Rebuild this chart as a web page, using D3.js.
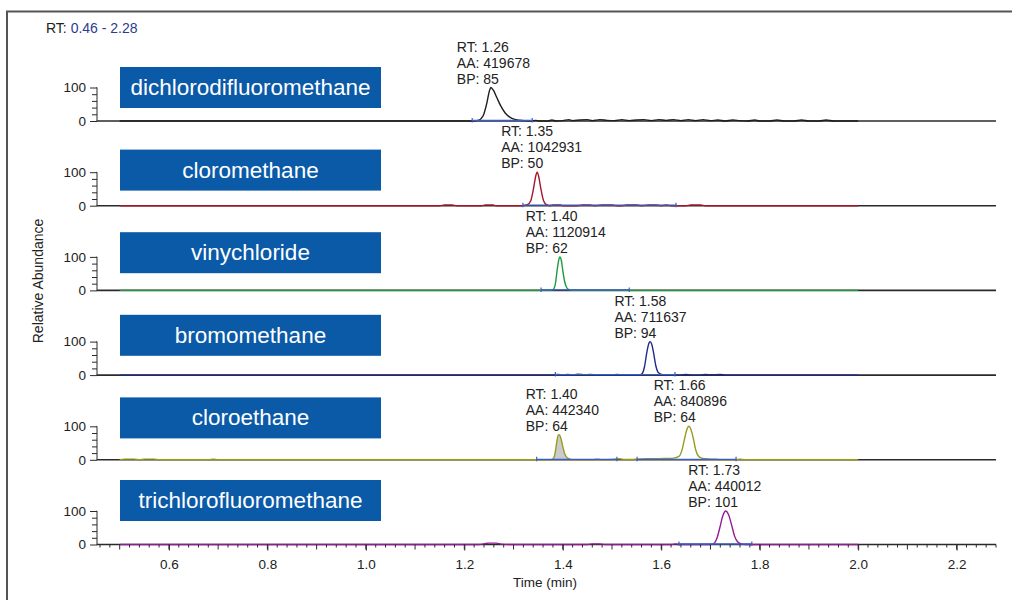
<!DOCTYPE html>
<html>
<head>
<meta charset="utf-8">
<script src="https://cdn.jsdelivr.net/npm/d3@7/dist/d3.min.js"></script>
<style>
  html, body { margin: 0; padding: 0; background: #fff; }
  svg { display: block; font-family: "Liberation Sans", Arial, Helvetica, sans-serif; }
</style>
</head>
<body>
<svg id="chart" width="1012" height="600"></svg>
<script>
// ---------------- DATA ----------------
const compounds = ["dichlorodifluoromethane", "cloromethane", "vinychloride", "bromomethane", "cloroethane", "trichlorofluoromethane"];
const rtRange = [0.46, 2.28];
const yTicks = [0, 100];
const xLabelTicks = [0.6, 0.8, 1.0, 1.2, 1.4, 1.6, 1.8, 2.0, 2.2];

// chromatogram traces: [time (min), relative abundance]
const trace0 = [[0.5,0],[1.215,0],[1.228,2],[1.238,15],[1.246,55],[1.251,90],[1.254,100],[1.259,92],[1.266,70],[1.274,45],[1.283,24],[1.293,11],[1.305,4],[1.32,1],[1.335,0],[1.345,2],[1.352,0],[1.37,0],[1.378,3],[1.386,0],[1.40,1],[1.412,4],[1.42,1],[1.435,3],[1.45,4],[1.46,1],[1.475,4],[1.49,2],[1.505,1],[1.52,4],[1.535,1],[1.55,3],[1.565,4],[1.58,1],[1.595,4],[1.61,2],[1.625,4],[1.64,1],[1.655,4],[1.67,1],[1.685,4],[1.70,1],[1.715,3],[1.73,0],[1.745,3],[1.76,1],[1.775,0],[1.79,3],[1.80,0],[1.82,0],[1.835,3],[1.85,0],[1.87,0],[1.885,3],[1.90,0],[1.92,0],[1.935,3],[1.95,0],[2.0,0]];
const trace1 = [[0.5,0],[1.15,0],[1.16,2],[1.175,2],[1.185,0],[1.235,0],[1.243,2],[1.258,2],[1.265,0],[1.318,0],[1.328,3],[1.335,15],[1.341,55],[1.345,88],[1.348,100],[1.351,88],[1.355,55],[1.361,15],[1.367,3],[1.374,0],[1.38,2],[1.395,2],[1.40,0],[1.43,0],[1.44,2],[1.455,2],[1.465,0],[1.48,2],[1.50,2],[1.51,0],[1.52,0],[1.53,2],[1.55,2],[1.56,0],[1.575,2],[1.59,2],[1.60,0],[1.61,2],[1.62,0],[1.65,0],[1.66,2],[1.68,2],[1.69,0],[2.0,0]];
const trace2 = [[0.5,0],[1.376,0],[1.381,3],[1.385,20],[1.389,65],[1.392,92],[1.394,100],[1.397,90],[1.40,60],[1.404,25],[1.409,6],[1.415,1],[1.42,0],[2.0,0]];
const trace3 = [[0.5,0],[1.38,0],[1.39,2],[1.40,0],[1.41,2],[1.42,0],[1.43,3],[1.445,1],[1.455,2],[1.47,0],[1.50,0],[1.51,2],[1.52,0],[1.555,0],[1.561,4],[1.566,25],[1.571,70],[1.575,95],[1.577,100],[1.58,95],[1.584,70],[1.589,28],[1.595,6],[1.603,1],[1.61,0],[1.64,0],[1.65,2],[1.66,0],[1.68,0],[1.69,2],[1.70,1],[1.72,2],[1.73,0],[2.0,0]];
const trace4 = [[0.5,0],[0.51,2],[0.53,2],[0.54,0],[0.55,2],[0.57,2],[0.58,0],[0.68,0],[0.69,2],[0.70,0],[1.376,0],[1.381,4],[1.385,25],[1.388,55],[1.391,74],[1.393,75],[1.396,65],[1.40,40],[1.404,18],[1.409,6],[1.415,2],[1.42,0],[1.46,0],[1.47,2],[1.48,0],[1.50,1],[1.515,3],[1.525,1],[1.54,1],[1.55,2],[1.57,3],[1.59,3],[1.61,4],[1.625,5],[1.636,10],[1.642,28],[1.647,60],[1.652,90],[1.656,100],[1.66,92],[1.665,65],[1.67,30],[1.675,12],[1.682,5],[1.69,3],[1.70,2],[1.71,2],[1.72,0],[1.75,0],[1.76,2],[1.77,0],[2.0,0]];
const trace5 = [[0.5,0],[1.23,0],[1.24,2],[1.25,4],[1.265,4],[1.275,1],[1.29,0],[1.45,0],[1.46,2],[1.475,2],[1.485,0],[1.62,0],[1.63,2],[1.64,0],[1.70,0],[1.707,3],[1.713,18],[1.719,50],[1.725,85],[1.731,100],[1.737,88],[1.743,58],[1.749,25],[1.755,8],[1.762,2],[1.77,0],[2.0,0]];
const traces = [trace0, trace1, trace2, trace3, trace4, trace5];

// shaded peak (panel, start, end)
const shadedPeaks = [[4, 1.376, 1.42]];

// integration baselines (panel, start, end)
const integrations = [[0,1.216,1.338],[1,1.319,1.630],[2,1.356,1.535],[3,1.385,1.628],[4,1.347,1.510],[4,1.551,1.752],[5,1.636,1.784]];

// peak annotations
const peakPanel = [0, 1, 2, 3, 4, 4, 5];
const peakRT    = [1.26, 1.35, 1.40, 1.58, 1.40, 1.66, 1.73];
const peakAA    = [419678, 1042931, 1120914, 711637, 442340, 840896, 440012];
const peakBP    = [85, 50, 62, 94, 64, 64, 101];
const peakApex  = [100, 100, 100, 100, 75, 100, 100];

// ---------------- STYLE ----------------
const traceColors = ["#1e1e1e", "#a3172a", "#1d9a3c", "#1f2a86", "#9a9a1f", "#951a95"];
const boxColor = "#0a5aa8";
const intColor = "#3a5cc6";
const axisColor = "#2a2a2a";

// ---------------- LAYOUT ----------------
const svg = d3.select("#chart");
svg.append("rect").attr("width", 1012).attr("height", 600).attr("fill", "#fff");

const x = d3.scaleLinear().domain(rtRange).range([100, 996]);
const axisX0 = 97;
const firstBase = 121, panelStep = 84.7, panelH = 33.5;
const boxTop0 = 67, boxStep = 82.6, boxH = 41;

// frame
svg.append("path").attr("d", "M7,600 V11.5 H1012").attr("fill", "none")
  .attr("stroke", "#555").attr("stroke-width", 2);

// RT range label
const rtText = svg.append("text").attr("x", 46).attr("y", 33).attr("font-size", 14);
rtText.append("tspan").attr("fill", "#222").text("RT: ");
rtText.append("tspan").attr("fill", "#2b3c8e").text(`${rtRange[0].toFixed(2)} - ${rtRange[1].toFixed(2)}`);

compounds.forEach((name, i) => {
  const base = firstBase + i * panelStep;
  const y = d3.scaleLinear().domain([0, 100]).range([base, base - panelH]);
  const g = svg.append("g");

  // y axis
  const yAxis = d3.axisLeft(y).tickValues(d3.range(0, 101, 20)).tickSize(5)
    .tickFormat(d => yTicks.includes(d) ? d : "");
  const ya = g.append("g").attr("transform", `translate(${axisX0},0)`).call(yAxis);
  ya.select(".domain").attr("stroke", axisColor).attr("d", `M-0.5,${y(100)}H0V${y(0)}H-0.5`);
  ya.selectAll(".tick line").attr("stroke", axisColor);
  ya.selectAll(".tick").filter(d => yTicks.includes(d)).select("line").attr("x2", -7);
  ya.selectAll(".tick text").attr("x", -11).attr("font-size", 13.5)
    .attr("font-family", "'Liberation Sans', Arial, sans-serif").attr("fill", "#222");

  // baseline
  g.append("line").attr("x1", axisX0).attr("x2", x(rtRange[1]) ).attr("y1", base).attr("y2", base)
    .attr("stroke", axisColor).attr("stroke-width", 1.6);

  const data = traces[i];
  // shaded peaks
  shadedPeaks.filter(s => s[0] === i).forEach(s => {
    const pts = data.filter(p => p[0] >= s[1] && p[0] <= s[2]);
    g.append("path").datum(pts)
      .attr("d", d3.area().x(d => x(d[0])).y0(y(0)).y1(d => y(d[1])).curve(d3.curveMonotoneX))
      .attr("fill", "#cbcbcb");
  });

  // trace
  g.append("path").datum(data)
    .attr("d", d3.line().x(d => x(d[0])).y(d => y(d[1])).curve(d3.curveMonotoneX))
    .attr("fill", "none").attr("stroke", traceColors[i]).attr("stroke-width", 1.4)
    .attr("stroke-linejoin", "round");

  // integration baselines
  integrations.filter(s => s[0] === i).forEach(s => {
    g.append("line").attr("x1", x(s[1])).attr("x2", x(s[2])).attr("y1", base - 0.5).attr("y2", base - 0.5)
      .attr("stroke", intColor).attr("stroke-width", 1.3);
    [s[1], s[2]].forEach(t => {
      g.append("line").attr("x1", x(t)).attr("x2", x(t)).attr("y1", base - 3).attr("y2", base + 1.5)
        .attr("stroke", intColor).attr("stroke-width", 1.2);
    });
  });

  // peak annotations
  peakPanel.forEach((p, k) => {
    if (p !== i) return;
    const tx = x(peakRT[k]) - 37;
    const ty = y(peakApex[k]) - 4;
    const lines = [`RT: ${peakRT[k].toFixed(2)}`, `AA: ${peakAA[k]}`, `BP: ${peakBP[k]}`];
    lines.forEach((s, j) => {
      g.append("text").attr("x", tx).attr("y", ty - (2 - j) * 16)
        .attr("font-size", 14).attr("fill", "#222").text(s);
    });
  });

  // compound box
  const bt = boxTop0 + i * boxStep;
  g.append("rect").attr("x", 120).attr("y", bt).attr("width", 261).attr("height", boxH).attr("fill", boxColor);
  g.append("text").attr("x", 250.5).attr("y", bt + boxH / 2 + 7.5).attr("text-anchor", "middle")
    .attr("font-size", 22.5).attr("fill", "#fff").text(name);

  // bottom time axis on last panel
  if (i === compounds.length - 1) {
    const minor = d3.range(46, 229, 2).map(v => v / 100);
    const ax = g.append("g").attr("transform", `translate(0,${base})`);
    ax.selectAll("line.tk").data(minor).enter().append("line")
      .attr("x1", d => x(d)).attr("x2", d => x(d)).attr("y1", 0)
      .attr("y2", d => (Math.round(d * 100) % 10 === 0) ? 5 : 3)
      .attr("stroke", axisColor).attr("stroke-width", 1);
    const xAxis = d3.axisBottom(x).tickValues(xLabelTicks).tickSize(6).tickFormat(d3.format(".1f"));
    const xa = ax.append("g").call(xAxis);
    xa.select(".domain").remove();
    xa.selectAll(".tick line").attr("stroke", axisColor);
    xa.selectAll(".tick text").attr("y", 15).attr("font-size", 13.5)
      .attr("font-family", "'Liberation Sans', Arial, sans-serif").attr("fill", "#222");
  }
});

// axis titles
svg.append("text").attr("x", 513).attr("y", 587).attr("font-size", 13.5).attr("fill", "#222").text("Time (min)");
svg.append("text").attr("transform", "translate(43,281) rotate(-90)").attr("text-anchor", "middle")
  .attr("font-size", 14).attr("fill", "#222").text("Relative Abundance");
</script>
</body>
</html>
